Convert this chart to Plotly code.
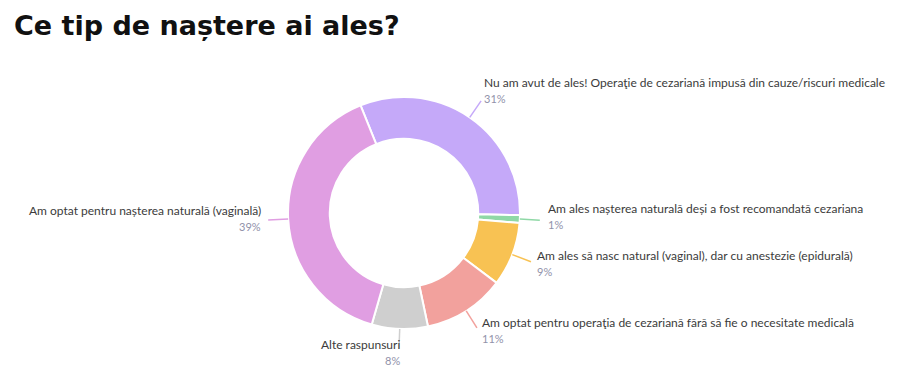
import math
import plotly.graph_objects as go

# ---- data ----
labels = [
    "Nu am avut de ales! Operaţie de cezariană impusă din cauze/riscuri medicale",
    "Am ales nașterea naturală deși a fost recomandată cezariana",
    "Am ales să nasc natural (vaginal), dar cu anestezie (epidurală)",
    "Am optat pentru operaţia de cezariană fără să fie o necesitate medicală",
    "Alte raspunsuri",
    "Am optat pentru nașterea naturală (vaginală)",
]
values = [31.4, 1.1, 8.9, 11.4, 7.8, 39.4]
colors = ["#c5a9f9", "#8fd8a6", "#f8c253", "#f2a19d", "#cfcfcf", "#e09ee2"]

# ---- layout constants ----
W, H = 900, 371
OFF = 8  # page body margin
CX, CY, R = 404, 213, 116
HOLE = 0.64
ROTATION = -22
LEAD = 20
sides = ["right", "right", "right", "right", "bottom", "left"]
label_dx = [2, 7, 5, 4, 2, -6]
label_dy = [-17, -10, -5, -4, -3, -8]
SPLIT = 7  # distance from label centre to the boundary with the % line

LABEL_FONT = "Lato"
LABEL_COLOR = "#3b3b3b"
PCT_COLOR = "#9192aa"


def px(x, y):
    return (x - OFF) / W, 1 - (y - OFF) / H


dx0, dy0 = px(CX - R, CY + R)
dx1, dy1 = px(CX + R, CY - R)

fig = go.Figure(
    go.Pie(
        labels=labels,
        values=values,
        hole=HOLE,
        sort=False,
        direction="clockwise",
        rotation=ROTATION,
        marker=dict(colors=colors, line=dict(color="white", width=2)),
        textinfo="none",
        hoverinfo="label+percent",
        showlegend=False,
        domain=dict(x=[dx0, dx1], y=[dy0, dy1]),
    )
)

total = sum(values)
cum = 0.0
shapes = []
annotations = []
for lab, v, col, side, ddx, ddy in zip(labels, values, colors, sides, label_dx, label_dy):
    mid = math.radians(ROTATION + 360 * (cum + v / 2) / total)
    cum += v
    s, c = math.sin(mid), math.cos(mid)
    x0, y0 = CX + R * s, CY - R * c
    x1, y1 = CX + (R + LEAD) * s, CY - (R + LEAD) * c
    a0 = px(x0, y0)
    a1 = px(x1, y1)
    shapes.append(dict(type="line", xref="paper", yref="paper", x0=a0[0], y0=a0[1], x1=a1[0], y1=a1[1],
                       line=dict(color=col, width=1.5)))
    pct = round(100 * v / total)
    xa = "left" if side == "right" else "right"
    tx = x1 + ddx
    pb = px(tx, y1 + ddy + SPLIT)
    annotations.append(dict(text=lab, x=pb[0], y=pb[1], xref="paper", yref="paper",
                            xanchor=xa, yanchor="bottom", showarrow=False, borderpad=0,
                            font=dict(family=LABEL_FONT, size=12, color=LABEL_COLOR)))
    annotations.append(dict(text=f"{pct}%", x=pb[0], y=pb[1], xref="paper", yref="paper",
                            xanchor=xa, yanchor="top", showarrow=False, borderpad=0,
                            font=dict(family=LABEL_FONT, size=11, color=PCT_COLOR)))

tp = px(12, 25)
annotations.append(dict(text="<b>Ce tip de naștere ai ales?</b>", x=tp[0], y=tp[1], xref="paper", yref="paper",
                        xanchor="left", yanchor="middle", showarrow=False,
                        font=dict(family="DejaVu Sans", size=27, color="#111111")))

fig.update_layout(
    width=W, height=H,
    margin=dict(l=0, r=0, t=0, b=0),
    paper_bgcolor="white", plot_bgcolor="white",
    shapes=shapes, annotations=annotations,
)
fig.write_html("out.html")
